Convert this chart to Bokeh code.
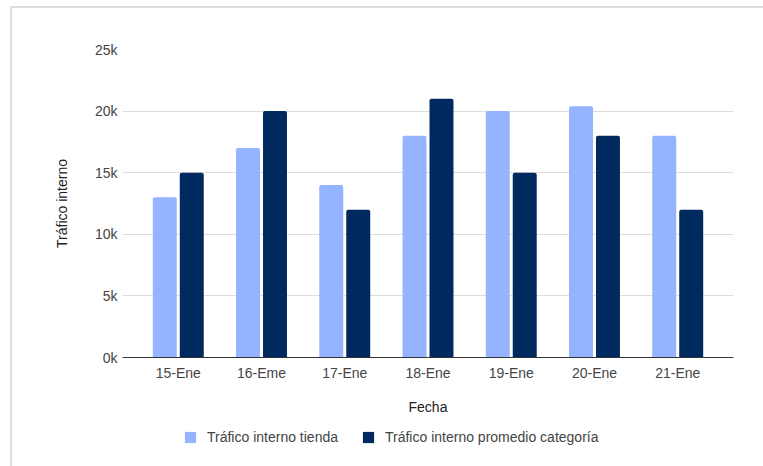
from bokeh.plotting import figure
from bokeh.layouts import column
from bokeh.models import (ColumnDataSource, FactorRange, Legend, LegendItem,
                          CustomJSTickFormatter, FixedTicker)
from bokeh.transform import dodge
from bokeh.embed import file_html
from bokeh.resources import INLINE

# Daily internal traffic: store vs. category average
fechas = ["15-Ene", "16-Eme", "17-Ene", "18-Ene", "19-Ene", "20-Ene", "21-Ene"]
trafico_tienda = [13000, 17000, 14000, 18000, 20000, 20400, 18000]
trafico_categoria = [15000, 20000, 12000, 21000, 15000, 18000, 12000]
y_ticks = [0, 5000, 10000, 15000, 20000, 25000]
series_labels = ["Tráfico interno tienda", "Tráfico interno promedio categoría"]

FONT = "Liberation Sans"
LIGHT = "#94b4ff"
DARK = "#002a5f"

source = ColumnDataSource(dict(fecha=fechas, tienda=trafico_tienda,
                               categoria=trafico_categoria))

p = figure(
    x_range=FactorRange(factors=fechas, range_padding=0.17,
                        range_padding_units="absolute"),
    y_range=(0, 25000),
    width=751, height=417,
    output_backend="svg", toolbar_location=None,
    min_border_left=110, min_border_right=30,
    min_border_top=41, min_border_bottom=68,
    outline_line_color=None,
)

p.vbar(x=dodge("fecha", -0.162, range=p.x_range), top="tienda", width=0.288,
       source=source, fill_color=LIGHT, line_color=None,
       border_radius=(2, 2, 0, 0))
p.vbar(x=dodge("fecha", 0.162, range=p.x_range), top="categoria", width=0.288,
       source=source, fill_color=DARK, line_color=None,
       border_radius=(2, 2, 0, 0))

# Axes and grid
p.xgrid.grid_line_color = None
p.ygrid.grid_line_color = "#dddddd"
p.ygrid.grid_line_width = 1

p.yaxis.ticker = FixedTicker(ticks=y_ticks)
p.yaxis.formatter = CustomJSTickFormatter(code="return (tick / 1000) + 'k';")
p.yaxis.axis_line_color = None
p.yaxis.major_tick_line_color = None
p.yaxis.minor_tick_line_color = None
p.yaxis.major_tick_out = 0
p.yaxis.major_label_standoff = 5
p.yaxis.axis_label = "Tráfico interno"
p.yaxis.axis_label_standoff = 22

p.xaxis.axis_line_color = "#333333"
p.xaxis.axis_line_width = 1
p.xaxis.major_tick_line_color = None
p.xaxis.minor_tick_line_color = None
p.xaxis.major_tick_out = 0
p.xaxis.major_label_standoff = 7
p.xaxis.axis_label = "Fecha"
p.xaxis.axis_label_standoff = 15

for ax in (p.xaxis, p.yaxis):
    ax.major_label_text_font = FONT
    ax.major_label_text_font_size = "14px"
    ax.major_label_text_color = "#444444"
    ax.axis_label_text_font = FONT
    ax.axis_label_text_font_size = "14px"
    ax.axis_label_text_font_style = "normal"
    ax.axis_label_text_color = "#222222"

# Legend strip under the chart (its frame lines up with the chart frame)
q = figure(
    width=751, height=41, x_range=(0, 1), y_range=(0, 1),
    output_backend="svg", toolbar_location=None,
    x_axis_location=None, y_axis_location=None,
    min_border=0, outline_line_color=None,
)
q.grid.visible = False
# zero-height keys placed off the visible range: they only supply legend swatches
k1 = q.vbar(x=[-1], top=[0], width=0.1, fill_color=LIGHT, line_color=None)
k2 = q.vbar(x=[-1], top=[0], width=0.1, fill_color=DARK, line_color=None)

legend = Legend(
    items=[LegendItem(label=series_labels[0], renderers=[k1]),
           LegendItem(label=series_labels[1], renderers=[k2])],
    orientation="horizontal", location=(61, 21),
    glyph_width=14, glyph_height=14, label_height=16,
    label_standoff=10, spacing=23, padding=0, margin=0,
    border_line_color=None, background_fill_alpha=0,
    label_text_font=FONT, label_text_font_size="14px",
    label_text_color="#444444",
)
q.add_layout(legend, "center")

layout = column(p, q, spacing=0)
layout.margin = (6, 0, 0, 10)
layout.styles = {"border-left": "2px solid #dcdcdc", "border-top": "2px solid #dcdcdc"}

open("out.html", "w").write(file_html(layout, INLINE))
